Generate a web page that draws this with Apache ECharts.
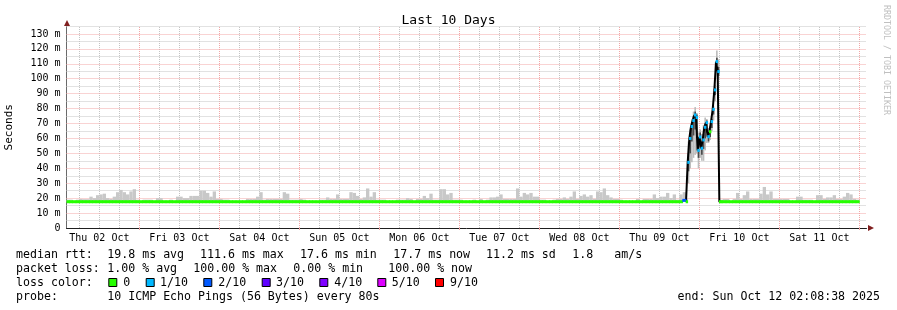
<!DOCTYPE html>
<html><head><meta charset="utf-8">
<script src="https://cdn.jsdelivr.net/npm/echarts@6/dist/echarts.min.js"></script>
<style>html,body{margin:0;padding:0;background:#fff}#c{width:897px;height:310px}</style>
</head><body><div id="c"></div>
<script>
// ---------- DATA (x values are hours since Thu 02 Oct 00:00) ----------
const axisStartHour = 2.1439;   // Thu 02 Oct 02:08:38
const axisEndHour = 242.1439;   // Sun 12 Oct 02:08:38
const dayLabels = ['Thu 02 Oct','Fri 03 Oct','Sat 04 Oct','Sun 05 Oct','Mon 06 Oct','Tue 07 Oct','Wed 08 Oct','Thu 09 Oct','Fri 10 Oct','Sat 11 Oct'];
const dayLabelHours = [12,36,60,84,108,132,156,180,204,228];
const yMax = 135;

// hourly samples, first one at 02:00 Thu 02 Oct
const hourlyStart = 2;
const hourlyStep = 1;
const hourlyMedian = [
17.6,17.6,17.6,17.6,17.6,17.6,17.6,17.6,17.6,17.6,
17.6,17.6,17.6,17.6,17.6,17.6,17.6,17.6,17.6,17.6,
17.6,17.6,17.6,17.6,17.6,17.6,17.6,17.6,17.6,17.6,
17.6,17.6,17.6,17.6,17.6,17.6,17.6,17.6,17.6,17.6,
17.6,17.6,17.6,17.6,17.6,17.6,17.6,17.6,17.6,17.6,
17.6,17.6,17.6,17.6,17.6,17.6,17.6,17.6,17.6,17.6,
17.6,17.6,17.6,17.6,17.6,17.6,17.6,17.6,17.6,17.6,
17.6,17.6,17.6,17.6,17.6,17.6,17.6,17.6,17.6,17.6,
17.6,17.6,17.6,17.6,17.6,17.6,17.6,17.6,17.6,17.6,
17.6,17.6,17.6,17.6,17.6,17.6,17.6,17.6,17.6,17.6,
17.6,17.6,17.6,17.6,17.6,17.6,17.6,17.6,17.6,17.6,
17.6,17.6,17.6,17.6,17.6,17.6,17.6,17.6,17.6,17.6,
17.6,17.6,17.6,17.6,17.6,17.6,17.6,17.6,17.6,17.6,
17.6,17.6,17.6,17.6,17.6,17.6,17.6,17.6,17.6,17.6,
17.6,17.6,17.6,17.6,17.6,17.6,17.6,17.6,17.6,17.6,
17.6,17.6,17.6,17.6,17.6,17.6,17.6,17.6,17.6,17.6,
17.6,17.6,17.6,17.6,17.6,17.6,17.6,17.6,17.6,17.6,
17.6,17.6,17.6,17.6,17.6,17.6,17.6,17.6,17.6,17.6,
17.6,17.6,17.6,17.6,17.6,18.5,null,null,null,null,
null,null,null,null,null,null,null,17.6,17.6,17.6,
17.6,17.6,17.6,17.6,17.6,17.6,17.6,17.6,17.6,17.6,
17.6,17.6,17.6,17.6,17.6,17.6,17.6,17.6,17.6,17.6,
17.6,17.6,17.6,17.6,17.6,17.6,17.6,17.6,17.6,17.6,
17.6,17.6,17.6,17.6,17.6,17.6,17.6,17.6
];
const hourlyLoss = [
0,0,0,0,0,0,0,0,0,0, 0,0,0,0,0,0,0,0,0,0, 0,0,0,0,0,0,0,0,0,0,
0,0,0,0,0,0,0,0,0,0, 0,0,0,0,0,0,0,0,0,0, 0,0,0,0,0,0,0,0,0,0,
0,0,0,0,0,0,0,0,0,0, 0,0,0,0,0,0,0,0,0,0, 0,0,0,0,0,0,0,0,0,0,
0,0,0,0,0,0,0,0,0,0, 0,0,0,0,0,0,0,0,0,0, 0,0,0,0,0,0,0,0,0,0,
0,0,0,0,0,0,0,0,0,0, 0,0,0,0,0,0,0,0,0,0, 0,0,0,0,0,0,0,0,0,0,
0,0,0,0,0,0,0,0,0,0, 0,0,0,0,0,0,0,0,0,0, 0,0,0,0,0,0,0,0,0,0,
0,0,0,0,0,2,0,0,0,0, 0,0,0,0,0,0,0,0,0,0, 0,0,0,0,0,0,0,0,0,0,
0,0,0,0,0,0,0,0,0,0, 0,0,0,0,0,0,0,0,0,0, 0,0,0,0,0,0,0,0
];
const hourlySmokeHi = [
19,19,18,19,19.5,19.3,19.3,21,20,22,
22.5,23,20,19.5,21,24,25.5,24,22.5,24.5,
26,19,18,19,19,19,18,20,20,18,
18,19,18,21,21,20,20,21.5,21.5,21.5,
25,25,23.5,21,24.5,19.5,19.5,19,19,18,
18,18,18,18,19.5,19.5,19.5,21,24,19,
19.5,19.5,19.5,19.5,19.5,24,23,19,19,19,
19.5,19,18,18,18,18,19,19,20.5,19.5,
19.5,22.5,19.5,19.5,19.5,24,23.5,21.5,19.5,20.5,
26.5,21,24,19,19,19,18,18,18,19,
19,19,20,19.5,18,19.5,19.5,21.5,20,23,
19,19,26,26,22.5,23.5,19,19,19,18,
18,18,19,18,19.5,18,19,20.5,20.5,21,
22.5,19.5,19.5,19.5,19.5,26.5,21,23.5,22.5,23.5,
21,21,19,19,18,18,19,19.5,19.5,20.5,
19.5,21,24.5,19.5,21.5,22.5,21,22,19.5,24.5,
24,26.5,22,20.5,19.5,19.5,19,18,18,18,
18,19.5,18,19.5,19.5,19.5,22.5,20,21,21,
23.5,20,22.5,19,22.5,24,null,null,null,null,
null,null,null,null,null,null,null,19.5,19.5,18,
19.5,23.5,19.5,22,24.5,19.5,19.5,19.5,23,27.5,
22.5,24.5,19.5,19.5,19.5,19.5,19.5,18,18,21,
21,19,19,19,18,22,22,19.5,20.5,20.5,
22,19.5,19.5,21,23.5,22.5,19.5,19
];

// 30-minute samples around the latency spike (Thu 09 Oct 20:00 -> Fri 10 Oct 06:30)
const detailStart = 188;
const detailStep = 0.5;
const detailMedian = [17.6,44,60,68,72,75.7,74,52,61,53.4,59,67.5,70.6,61.2,64.5,71.3,79.5,92.5,111.5,104.8,17.6,17.6];
const detailLoss   = [0,1,1,1,1,1,1,1,1,1,1,1,1,1,0,1,1,1,1,1,0,0];
const detailSmokeLo = [17.3,30,40,44,47,49,50,40,47,45,45,52,57,57,59,65,72,85,107,100,17.3,17.3];
const detailSmokeHi = [19.5,58,66,73,78,81,77,64,66,63,69,74,73,67,68,74,82,96,119,113,19,19];
const detailCoreLo = [null,38,50,58,62,66,62,47,54,49,53,60,64,58,61,67,76,89,109,102,null,null];
const detailCoreHi = [null,50,63,71,75,78,76,58,64,58,63,70,72,64,66,73,80,94,114,108,null,null];

const lossLabels = ['0','1/10','2/10','3/10','4/10','5/10','9/10'];
const lossColors = ['#26ff00','#00b8ff','#0059ff','#5e00ff','#7e00ff','#dd00ff','#ff0000'];
const lossLegendIndex = [0,1,2,3,4,5,9]; // loss level (in tenths) of each legend entry

const rttStats = ['19.8 ms avg','111.6 ms max','17.6 ms min','17.7 ms now','11.2 ms sd','1.8','am/s'];
const lossStats = ['1.00 % avg','100.00 % max','0.00 % min','100.00 % now'];
const probeText = '10 ICMP Echo Pings (56 Bytes) every 80s';
const endText = 'end: Sun Oct 12 02:08:38 2025';

// ---------- BUILD ----------
const FONT = 'DejaVu Sans Mono';
const GRID_GRAY = '#c4c4c4';
const GRID_RED = '#f2a6a6';

function colorOfLoss(tenths) {
  const k = lossLegendIndex.indexOf(tenths);
  return lossColors[k >= 0 ? k : lossColors.length - 1];
}

const hourlySmoke = [], hourlySeg = [];
hourlyMedian.forEach((m, i) => {
  const h = hourlyStart + i * hourlyStep;
  if (m == null) return;
  if (hourlySmokeHi[i] != null) hourlySmoke.push([h, m, hourlySmokeHi[i]]);
  hourlySeg.push([h, m, hourlyLoss[i], hourlyStep]);
});
const detailSmoke = [], detailCore = [], detailSeg = [], detailLine = [];
detailMedian.forEach((m, k) => {
  const h = detailStart + k * detailStep;
  detailSmoke.push([h, detailSmokeLo[k], detailSmokeHi[k]]);
  if (detailCoreLo[k] != null) detailCore.push([h, detailCoreLo[k], detailCoreHi[k]]);
  detailSeg.push([h, m, detailLoss[k], detailStep]);
  detailLine.push([h, m]);
});

function bandSeries(data, step, color, z) {
  return {
    type: 'custom', z, silent: true, animation: false,
    encode: {x: 0, y: [1, 2]},
    renderItem: (params, api) => {
      const h = api.value(0), lo = api.value(1), hi = api.value(2);
      const a = api.coord([h, hi]), b = api.coord([h + step, lo]);
      const cs = params.coordSys;
      const shape = echarts.graphic.clipRectByRect(
        {x: a[0], y: a[1], width: b[0] - a[0], height: b[1] - a[1]},
        {x: cs.x, y: cs.y, width: cs.width, height: cs.height});
      return shape ? {type: 'rect', shape, style: {fill: color}} : null;
    },
    data
  };
}

function segSeries(data, z) {
  return {
    type: 'custom', z, silent: true, animation: false,
    encode: {x: 0, y: 1},
    renderItem: (params, api) => {
      const h = api.value(0), m = api.value(1), loss = api.value(2), st = api.value(3);
      const a = api.coord([h, m]), b = api.coord([h + st, m]);
      const cs = params.coordSys;
      const x1 = Math.max(a[0] - 0.4, cs.x), x2 = Math.min(b[0] + 0.4, cs.x + cs.width);
      if (x2 <= x1) return null;
      return {type: 'line', shape: {x1, y1: a[1], x2, y2: a[1]},
              style: {stroke: colorOfLoss(loss), lineWidth: 3}};
    },
    data
  };
}

const gridLines = [];
for (let h = 6; h <= 240; h += 6) gridLines.push({xAxis: h, lineStyle: {color: h % 24 === 0 ? GRID_RED : GRID_GRAY}});
for (let v = 5; v <= yMax; v += 5) gridLines.push({yAxis: v, lineStyle: {color: v % 10 === 0 ? GRID_RED : GRID_GRAY}});

// legend / text graphics
const txt = (x, y, text, extra) => Object.assign({
  type: 'text', x, y, silent: true,
  style: Object.assign({text, font: '11.6px "' + FONT + '"', fill: '#000', align: 'left', verticalAlign: 'middle'}, extra || {})
});
const rttX = [107.3, 200, 300, 393.3, 486, 572.3, 614.3];
const lossX = [107.3, 193.3, 293.3, 388.3];
const legSquareX = [108.3, 145.7, 203.3, 261.7, 319.3, 377.3, 435];
const legTextX = [123.3, 160, 218.3, 276, 334.3, 391.7, 450];
const graphics = [];
graphics.push(txt(16, 254.5, 'median rtt:'));
rttStats.forEach((s, i) => graphics.push(txt(rttX[i], 254.5, s)));
graphics.push(txt(16, 268.5, 'packet loss:'));
lossStats.forEach((s, i) => graphics.push(txt(lossX[i], 268.5, s)));
graphics.push(txt(16, 282.5, 'loss color:'));
lossLabels.forEach((s, i) => {
  graphics.push({type: 'rect', silent: true, shape: {x: legSquareX[i] + 0.5, y: 278.5, width: 8, height: 8},
                 style: {fill: lossColors[i], stroke: '#000', lineWidth: 1}});
  graphics.push(txt(legTextX[i], 282.5, s));
});
graphics.push(txt(16, 296.5, 'probe:'));
graphics.push(txt(107.3, 296.5, probeText));
graphics.push(txt(880, 296.5, endText, {align: 'right'}));
graphics.push({type: 'text', x: 886, y: 5, rotation: -Math.PI / 2, silent: true,
  style: {text: 'RRDTOOL / TOBI OETIKER', font: '8.3px "' + FONT + '"', fill: '#c0c0c0', align: 'left', verticalAlign: 'middle'}});
// axis arrows
graphics.push({type: 'polygon', silent: true, shape: {points: [[64, 26], [70, 26], [67, 20]]}, style: {fill: '#801f1f'}});
graphics.push({type: 'polygon', silent: true, shape: {points: [[868, 225], [868, 231], [874, 228]]}, style: {fill: '#801f1f'}});

const chart = echarts.init(document.getElementById('c'), null, {renderer: 'canvas'});
chart.setOption({
  backgroundColor: '#ffffff',
  animation: false,
  title: {text: 'Last 10 Days', left: 'center', top: 9,
          textStyle: {fontFamily: FONT, fontSize: 13, fontWeight: 'normal', color: '#000'}},
  grid: {left: 66.5, right: 30.5, top: 26.5, bottom: 82, containLabel: false, outerBoundsMode: 'none'},
  xAxis: {
    type: 'value', min: axisStartHour, max: axisEndHour,
    axisLine: {show: true, lineStyle: {color: '#1f1f1f', width: 1}},
    axisTick: {show: true, customValues: [24, 48, 72, 96, 120, 144, 168, 192, 216, 240], length: 2, inside: false,
               lineStyle: {color: GRID_RED}},
    axisLabel: {customValues: dayLabelHours, margin: 5, fontFamily: FONT, fontSize: 10, color: '#000',
                formatter: v => dayLabels[dayLabelHours.indexOf(Math.round(v))] || ''},
    splitLine: {show: false}
  },
  yAxis: {
    type: 'value', min: 0, max: yMax, interval: 10,
    name: 'Seconds', nameLocation: 'middle', nameRotate: 90, nameGap: 52,
    nameTextStyle: {fontFamily: FONT, fontSize: 11, color: '#000'},
    axisLine: {show: true, lineStyle: {color: '#6a6a6a', width: 1}},
    axisTick: {show: false},
    axisLabel: {margin: 6, fontFamily: FONT, fontSize: 10, color: '#000',
                formatter: v => (v === 0 ? '0' : (v % 10 === 0 ? v + ' m' : ''))},
    splitLine: {show: false}
  },
  graphic: graphics,
  series: [
    bandSeries(hourlySmoke, hourlyStep, '#c8c8c8', 2),
    bandSeries(detailSmoke, detailStep, '#bdbdbd', 2),
    bandSeries(detailCore, detailStep, '#4a4a4a', 3),
    {
      type: 'line', z: 4, step: 'end', symbol: 'none', silent: true, animation: false,
      data: detailLine, lineStyle: {color: '#000', width: 2},
      markLine: {silent: true, symbol: ['none', 'none'], label: {show: false}, z: 1, animation: false,
                 lineStyle: {width: 1, type: [1, 1]}, emphasis: {disabled: true}, data: gridLines}
    },
    segSeries(hourlySeg, 5),
    segSeries(detailSeg, 6)
  ]
});
</script></body></html>
